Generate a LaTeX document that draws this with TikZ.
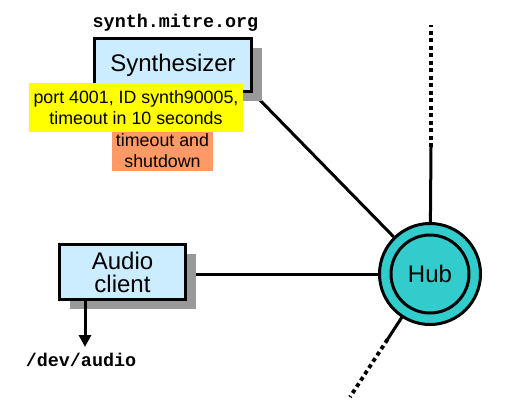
\documentclass[tikz,border=0pt]{standalone}
\usepackage{fontspec}
\setmainfont{Liberation Sans}
\setmonofont{Liberation Mono}
\usetikzlibrary{shadows,arrows.meta,backgrounds}
\definecolor{boxblue}{RGB}{204,236,255}
\definecolor{shadowgray}{RGB}{153,153,153}
\definecolor{hubcyan}{RGB}{51,204,204}
\definecolor{labyellow}{RGB}{255,255,0}
\definecolor{laborange}{RGB}{255,153,102}
\tikzset{
  compbox/.style={draw=black, line width=3pt, fill=boxblue, align=center, inner sep=0pt,
    font=\fontsize{24}{23}\selectfont,
    drop shadow={shadow xshift=10pt, shadow yshift=-9pt, fill=shadowgray, opacity=1}},
  conn/.style={line width=3pt, draw=black},
  dotconn/.style={line width=3.8pt, draw=black, dash pattern=on 4pt off 3.5pt},
  note/.style={inner sep=0pt, align=center, font=\fontsize{17.8}{21}\selectfont},
  host/.style={font=\ttfamily\bfseries\fontsize{18.4}{20}\selectfont, inner sep=0pt, anchor=base}
}
\begin{document}
\begin{tikzpicture}[x=1pt,y=-1pt]
\useasboundingbox (0,0) rectangle (527,407);
% hub
\node[circle, draw=black, line width=3pt, fill=hubcyan, minimum size=101pt] (hub) at (430,274) {};
\node[circle, draw=black, line width=3pt, minimum size=78pt, font=\fontsize{24}{24}\selectfont] (hubin) at (430,274) {Hub};
% boxes
\node[compbox, minimum width=157pt, minimum height=53pt] (syn) at (173,65) {Synthesizer};
\node[compbox, minimum width=126pt, minimum height=55pt] (aud) at (122.5,272) {Audio\\client};
% hostnames
\node[host] (host) at (175.5,27) {synth.mitre.org};
\node[host] (dev) at (81,366) {/dev/audio};
% labels
\node[note, fill=laborange, minimum width=101pt, minimum height=40pt] (shut) at (162.5,151) {timeout and\\shutdown};
\node[note, fill=labyellow, minimum width=214pt, minimum height=49pt] (port) at (136,107.5) {port 4001, ID synth90005,\\timeout in 10 seconds};
% coordinates
\coordinate (topmid) at (431,147);
\coordinate (topend) at (431,25);
\coordinate (lowmid) at (387.5,339.4);
\coordinate (lowend) at (350,397);
\coordinate (arrtip) at (85,347);
\begin{scope}[on background layer]
\fill[white] (0,0) rectangle (527,407);
\draw[conn] (syn.south east) -- (hub);
\draw[conn] (aud.east |- hub) -- (hub.west);
\draw[conn] (topmid) -- (hub.center);
\draw[dotconn] (topmid) -- (topend);
\draw[conn] (lowmid) -- (hub.center);
\draw[dotconn] (lowmid) -- (lowend);
\end{scope}
\draw[conn, -{Triangle[width=12pt,length=12pt]}] (aud.south west -| arrtip) -- (arrtip);
\end{tikzpicture}
\end{document}
